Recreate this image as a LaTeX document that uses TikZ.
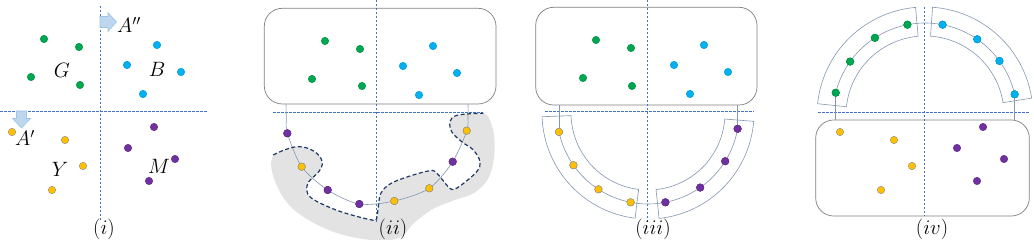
\documentclass[tikz,border=0pt]{standalone}
\usetikzlibrary{calc}
\definecolor{cgreen}{HTML}{00A650}
\definecolor{ccyan}{HTML}{00B0F0}
\definecolor{cyell}{HTML}{FFC000}
\definecolor{cpurp}{HTML}{7030A0}
\definecolor{caxis}{HTML}{4472C4}
\definecolor{cconn}{HTML}{8496B0}
\definecolor{cnavy}{HTML}{1F3864}
\definecolor{cbox}{HTML}{7F7F7F}
\definecolor{carrf}{HTML}{BDD7EE}
\definecolor{carrd}{HTML}{9DC3E6}
\tikzset{
  dot/.style={circle,inner sep=0pt,minimum size=7.5pt,line width=0.4pt},
  gdot/.style={dot,fill=cgreen,draw=cgreen!85!black},
  bdot/.style={dot,fill=ccyan,draw=ccyan!85!black},
  ydot/.style={dot,fill=cyell,draw=black!45},
  mdot/.style={dot,fill=cpurp,draw=cpurp!85!black},
  axisline/.style={draw=caxis,line width=0.6pt,dash pattern=on 2.5pt off 1.5pt},
  conn/.style={draw=cconn,line width=0.6pt},
  sector/.style={draw=cconn,line width=0.6pt},
  boxnode/.style={draw=cbox,line width=0.7pt,rounded corners=18pt,inner sep=0pt},
  lbl/.style={inner sep=0pt,font=\fontsize{19.5}{22}\selectfont},
  blockarrow/.style={fill=carrf,draw=carrd,line width=0.6pt},
  blobline/.style={draw=cnavy,line width=1.2pt,dash pattern=on 4pt off 2.5pt},
}
\begin{document}
\begin{tikzpicture}[x=1pt,y=1pt,yscale=-1]
\useasboundingbox (0,0) rectangle (1034,240);

% ---------------- panel (i)
\draw[axisline] (100,6) -- (100,220);
\draw[axisline] (0,111) -- (207,111);
\draw[blockarrow] (100,16.5) -- (108,16.5) -- (108,12.5) -- (116.5,22) -- (108,31.5) -- (108,27.5) -- (100,27.5) -- cycle;
\draw[blockarrow] (16.5,111) -- (26.5,111) -- (26.5,118.5) -- (30.5,118.5) -- (21.5,128) -- (12.5,118.5) -- (16.5,118.5) -- cycle;
\node[lbl] (tA2) at (129,25) {$A''$};
\node[lbl] (tA1) at (25,138) {$A'$};
\node[gdot] (i-g1) at (44,39) {};
\node[gdot] (i-g2) at (79,47) {};
\node[gdot] (i-g3) at (31,77) {};
\node[gdot] (i-g4) at (80,85) {};
\node[bdot] (i-b1) at (157,45) {};
\node[bdot] (i-b2) at (127,65) {};
\node[bdot] (i-b3) at (181,72) {};
\node[bdot] (i-b4) at (143,94) {};
\node[ydot] (i-y1) at (12,132) {};
\node[ydot] (i-y2) at (65,140) {};
\node[ydot] (i-y3) at (83,166) {};
\node[ydot] (i-y4) at (52,190) {};
\node[mdot] (i-m1) at (154,127) {};
\node[mdot] (i-m2) at (128,148) {};
\node[mdot] (i-m3) at (175,159) {};
\node[mdot] (i-m4) at (149,181) {};
\node[lbl] (tG) at (62,70) {$G$};
\node[lbl] (tB) at (157,69) {$B$};
\node[lbl] (tY) at (60,169) {$Y$};
\node[lbl] (tM) at (159,166) {$M$};
\node[lbl] (t1) at (104,229) {$(i)$};

% ---------------- panel (ii)
\fill[black!11] plot[smooth,tension=0.6] coordinates {(273.3,155) (283,150.5) (296,146.8) (308.5,148.5) (318.5,155) (322.5,163.5) (318.5,172) (309,181.5) (306.7,190) (311.7,198.3) (331.7,208.3) (351.7,215) (372,220) (376.5,219) (378.5,205) (381,193) (390,184) (407,177) (430,170.7) (437,173.5) (446.7,185) (452,189.5) (460,186) (476.7,171.7) (480,161.7) (473.3,150) (461.7,141.7) (451.7,131.7) (450,121.7) (455,116) (466.7,114) (483.3,113.3)}
  -- plot[smooth,tension=0.6] coordinates {(483.3,113.3) (489,118) (494,135) (494,158) (488,179) (474,193) (455,200) (433,209) (414,223) (399,238) (372,240) (340,234) (312,222) (290,206) (277,186) (271,166) (273.3,155)} -- cycle;
\node[boxnode,minimum width=231.7pt,minimum height=95.7pt] (r2) at (380.15,56.15) {};
\draw[axisline] (376,0) -- (376,222);
\draw[axisline] (273,112) -- (483,112);
\node[gdot] (ii-g1) at (325,41) {};
\node[gdot] (ii-g2) at (360,49) {};
\node[gdot] (ii-g3) at (312,79) {};
\node[gdot] (ii-g4) at (362,86) {};
\node[bdot] (ii-b1) at (433,46) {};
\node[bdot] (ii-b2) at (403,66) {};
\node[bdot] (ii-b3) at (457,73) {};
\node[bdot] (ii-b4) at (419,95) {};
\coordinate (ii-s) at (286,104.3);
\coordinate (ii-e) at (468,104.3);
\node[mdot] (ii-p1) at (287.3,133.3) {};
\node[ydot] (ii-y1) at (301.7,166.7) {};
\node[mdot] (ii-p2) at (327.7,190) {};
\node[mdot] (ii-p3) at (359.3,204) {};
\node[ydot] (ii-y2) at (394.3,201) {};
\node[ydot] (ii-y3) at (429.3,188.3) {};
\node[mdot] (ii-p4) at (452.7,161.7) {};
\node[ydot] (ii-y4) at (466.7,130.7) {};
\draw[conn] plot[smooth] coordinates {(ii-s) (286.4,118) (ii-p1) (ii-y1) (ii-p2) (ii-p3) (ii-y2) (ii-y3) (ii-p4) (ii-y4) (468,116) (ii-e)};
\foreach \n/\s in {ii-p1/mdot,ii-y1/ydot,ii-p2/mdot,ii-p3/mdot,ii-y2/ydot,ii-y3/ydot,ii-p4/mdot,ii-y4/ydot}
  \node[\s] at (\n) {};
\draw[blobline] plot[smooth,tension=0.6] coordinates {(273.3,155) (283,150.5) (296,146.8) (308.5,148.5) (318.5,155) (322.5,163.5) (318.5,172) (309,181.5) (306.7,190) (311.7,198.3) (331.7,208.3) (351.7,215) (372,220) (376.5,219) (378.5,205) (381,193) (390,184) (407,177) (430,170.7) (437,173.5) (446.7,185) (452,189.5) (460,186) (476.7,171.7) (480,161.7) (473.3,150) (461.7,141.7) (451.7,131.7) (450,121.7) (455,116) (466.7,114) (483.3,113.3)};
\node[lbl] (t2) at (393,229) {$(ii)$};

% ---------------- panel (iii)
\node[boxnode,minimum width=221.3pt,minimum height=97.7pt] (r3) at (646.35,56.15) {};
\draw[axisline] (647,0) -- (647,222);
\draw[axisline] (545,111.7) -- (754,111.7);
\node[gdot] (iii-g1) at (596,40) {};
\node[gdot] (iii-g2) at (631,48) {};
\node[gdot] (iii-g3) at (583,78) {};
\node[gdot] (iii-g4) at (632,86) {};
\node[bdot] (iii-b1) at (704,45) {};
\node[bdot] (iii-b2) at (674,65) {};
\node[bdot] (iii-b3) at (728,72) {};
\node[bdot] (iii-b4) at (690,94) {};
\draw[sector] plot[domain=97:178,samples=40] ({648+77*cos(\x)},{113+77*sin(\x)})
  -- plot[domain=178:97,samples=40] ({648+106*cos(\x)},{113+106*sin(\x)}) -- cycle;
\draw[sector] plot[domain=4.5:84,samples=40] ({648+77*cos(\x)},{113+77*sin(\x)})
  -- plot[domain=84:4.5,samples=40] ({648+106*cos(\x)},{113+106*sin(\x)}) -- cycle;
\node[ydot] (iii-y1) at ({648+91*cos(168)},{113+91*sin(168)}) {};
\node[ydot] (iii-y2) at ({648+91*cos(145)},{113+91*sin(145)}) {};
\node[ydot] (iii-y3) at ({648+91*cos(123)},{113+91*sin(123)}) {};
\node[ydot] (iii-y4) at ({648+91*cos(101)},{113+91*sin(101)}) {};
\node[mdot] (iii-p1) at ({648+91*cos(79)},{113+91*sin(79)}) {};
\node[mdot] (iii-p2) at ({648+91*cos(55)},{113+91*sin(55)}) {};
\node[mdot] (iii-p3) at ({648+91*cos(32)},{113+91*sin(32)}) {};
\node[mdot] (iii-p4) at ({648+91*cos(10)},{113+91*sin(10)}) {};
\draw[conn] (iii-y1 |- r3.south) -- (iii-y1);
\draw[conn] (iii-p4 |- r3.south) -- (iii-p4);
\draw[conn] plot[domain=168:10,samples=60] ({648+91*cos(\x)},{113+91*sin(\x)});
\foreach \n/\s in {iii-y1/ydot,iii-y2/ydot,iii-y3/ydot,iii-y4/ydot,iii-p1/mdot,iii-p2/mdot,iii-p3/mdot,iii-p4/mdot}
  \node[\s] at (\n) {};
\node[lbl] (t3) at (653,229) {$(iii)$};

% ---------------- panel (iv)
\node[boxnode,minimum width=213.6pt,minimum height=96pt] (r4) at (922.5,168) {};
\draw[axisline] (924,7) -- (924,216);
\draw[axisline] (818,112.7) -- (1030,112.7);
\node[ydot] (iv-y1) at (840,132) {};
\node[ydot] (iv-y2) at (894,140) {};
\node[ydot] (iv-y3) at (912,166) {};
\node[ydot] (iv-y4) at (881,190) {};
\node[mdot] (iv-m1) at (983,127) {};
\node[mdot] (iv-m2) at (957,148) {};
\node[mdot] (iv-m3) at (1004,159) {};
\node[mdot] (iv-m4) at (977,181) {};
\draw[sector] plot[domain=186:265,samples=40] ({925+79*cos(\x)},{115+79*sin(\x)})
  -- plot[domain=265:186,samples=40] ({925+108*cos(\x)},{115+108*sin(\x)}) -- cycle;
\draw[sector] plot[domain=274:351,samples=40] ({925+79*cos(\x)},{115+79*sin(\x)})
  -- plot[domain=351:274,samples=40] ({925+108*cos(\x)},{115+108*sin(\x)}) -- cycle;
\node[gdot] (iv-g1) at ({925+92*cos(194)},{115+92*sin(194)}) {};
\node[gdot] (iv-g2) at ({925+92*cos(215.5)},{115+92*sin(215.5)}) {};
\node[gdot] (iv-g3) at ({925+92*cos(237)},{115+92*sin(237)}) {};
\node[gdot] (iv-g4) at ({925+92*cos(259)},{115+92*sin(259)}) {};
\node[bdot] (iv-b1) at ({925+92*cos(281)},{115+92*sin(281)}) {};
\node[bdot] (iv-b2) at ({925+92*cos(304.6)},{115+92*sin(304.6)}) {};
\node[bdot] (iv-b3) at ({925+92*cos(324)},{115+92*sin(324)}) {};
\node[bdot] (iv-b4) at ({925+92*cos(347)},{115+92*sin(347)}) {};
\draw[conn] (iv-g1 |- r4.north) -- (iv-g1);
\draw[conn] (iv-b4 |- r4.north) -- (iv-b4);
\draw[conn] plot[domain=194:347,samples=60] ({925+92*cos(\x)},{115+92*sin(\x)});
\foreach \n/\s in {iv-g1/gdot,iv-g2/gdot,iv-g3/gdot,iv-g4/gdot,iv-b1/bdot,iv-b2/bdot,iv-b3/bdot,iv-b4/bdot}
  \node[\s] at (\n) {};
\node[lbl] (t4) at (932,229) {$(iv)$};
\end{tikzpicture}
\end{document}
